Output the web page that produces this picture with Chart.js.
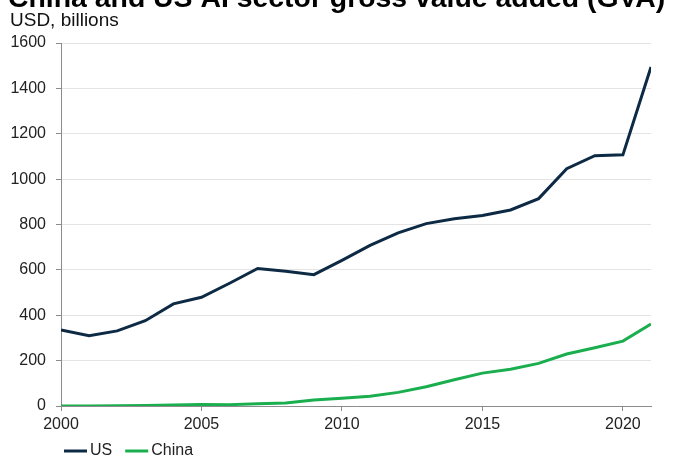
<!DOCTYPE html>
<html>
<head>
<meta charset="utf-8">
<script src="https://cdn.jsdelivr.net/npm/chart.js@4"></script>
<style>
  html, body { margin: 0; padding: 0; background: #fff; }
  #wrap { position: relative; width: 675px; height: 459px; overflow: hidden; }
</style>
</head>
<body>
<div id="wrap"><canvas id="myChart" width="675" height="459"></canvas></div>
<script>
const years = [2000, 2001, 2002, 2003, 2004, 2005, 2006, 2007, 2008, 2009, 2010,
    2011, 2012, 2013, 2014, 2015, 2016, 2017, 2018, 2019, 2020, 2021];
const usValues = [335, 310, 331, 376, 450, 479, 541, 606, 594, 579, 642,
    708, 763, 804, 825, 840, 864, 914, 1046, 1103, 1107, 1494];
const chinaValues = [0, 0, 1, 2, 4, 7, 6, 10, 13, 26, 34,
    43, 60, 85, 116, 145, 162, 188, 229, 257, 286, 361];
const titleText = 'China and US AI sector gross value added (GVA)';
const unitText = 'USD, billions';
const fontFamily = '"Liberation Sans", Arial, sans-serif';

document.addEventListener('DOMContentLoaded', function () {
    const ctx = document.getElementById('myChart').getContext('2d');

    // title, unit label and legend drawn on top of the chart
    const extras = {
        id: 'extras',
        afterDraw(chart) {
            const c = chart.ctx;
            c.save();
            c.fillStyle = '#000';
            c.textAlign = 'left';
            c.textBaseline = 'alphabetic';
            c.font = 'bold 28.4px ' + fontFamily;
            c.fillText(titleText, 8, 7);
            c.font = '19px ' + fontFamily;
            c.fillStyle = '#111';
            c.fillText(unitText, 10, 26);

            // legend
            let x = 64;
            const y = 451;
            c.font = '16px ' + fontFamily;
            c.textBaseline = 'middle';
            chart.data.datasets.forEach(ds => {
                c.strokeStyle = ds.borderColor;
                c.lineWidth = 3;
                c.beginPath();
                c.moveTo(x, y);
                c.lineTo(x + 23, y);
                c.stroke();
                c.fillStyle = '#222';
                c.fillText(ds.label, x + 26, y);
                x += 26 + c.measureText(ds.label).width + 13;
            });
            c.restore();
        }
    };

    new Chart(ctx, {
        type: 'line',
        data: {
            datasets: [{
                label: 'US',
                data: years.map((yr, i) => ({ x: yr, y: usValues[i] })),
                borderColor: '#0d2a44',
                backgroundColor: '#0d2a44',
                borderWidth: 3,
                pointRadius: 0,
                tension: 0
            }, {
                label: 'China',
                data: years.map((yr, i) => ({ x: yr, y: chinaValues[i] })),
                borderColor: '#1aae4f',
                backgroundColor: '#1aae4f',
                borderWidth: 3,
                pointRadius: 0,
                tension: 0
            }]
        },
        options: {
            responsive: false,
            animation: false,
            layout: { padding: { top: 43, right: 24, left: 0, bottom: 0 } },
            plugins: {
                legend: { display: false },
                tooltip: { enabled: false }
            },
            scales: {
                x: {
                    type: 'linear',
                    min: 2000,
                    max: 2021,
                    afterFit: function (scale) { scale.height = 53; },
                    border: { color: '#8c8c8c', width: 1 },
                    grid: { drawOnChartArea: false, drawTicks: true, tickLength: 5, tickColor: '#8c8c8c' },
                    ticks: {
                        stepSize: 5,
                        includeBounds: false,
                        maxRotation: 0,
                        padding: 4,
                        color: '#222',
                        font: { family: fontFamily, size: 16 },
                        callback: v => String(v)
                    }
                },
                y: {
                    min: 0,
                    max: 1600,
                    afterFit: function (scale) { scale.width = 61; },
                    border: { color: '#8c8c8c', width: 1 },
                    grid: { color: '#e4e4e4', lineWidth: 1, tickLength: 5, tickColor: '#8c8c8c' },
                    ticks: {
                        stepSize: 200,
                        padding: 10,
                        color: '#222',
                        font: { family: fontFamily, size: 16 },
                        callback: v => String(v)
                    }
                }
            }
        },
        plugins: [extras]
    });
});
</script>
</body>
</html>
